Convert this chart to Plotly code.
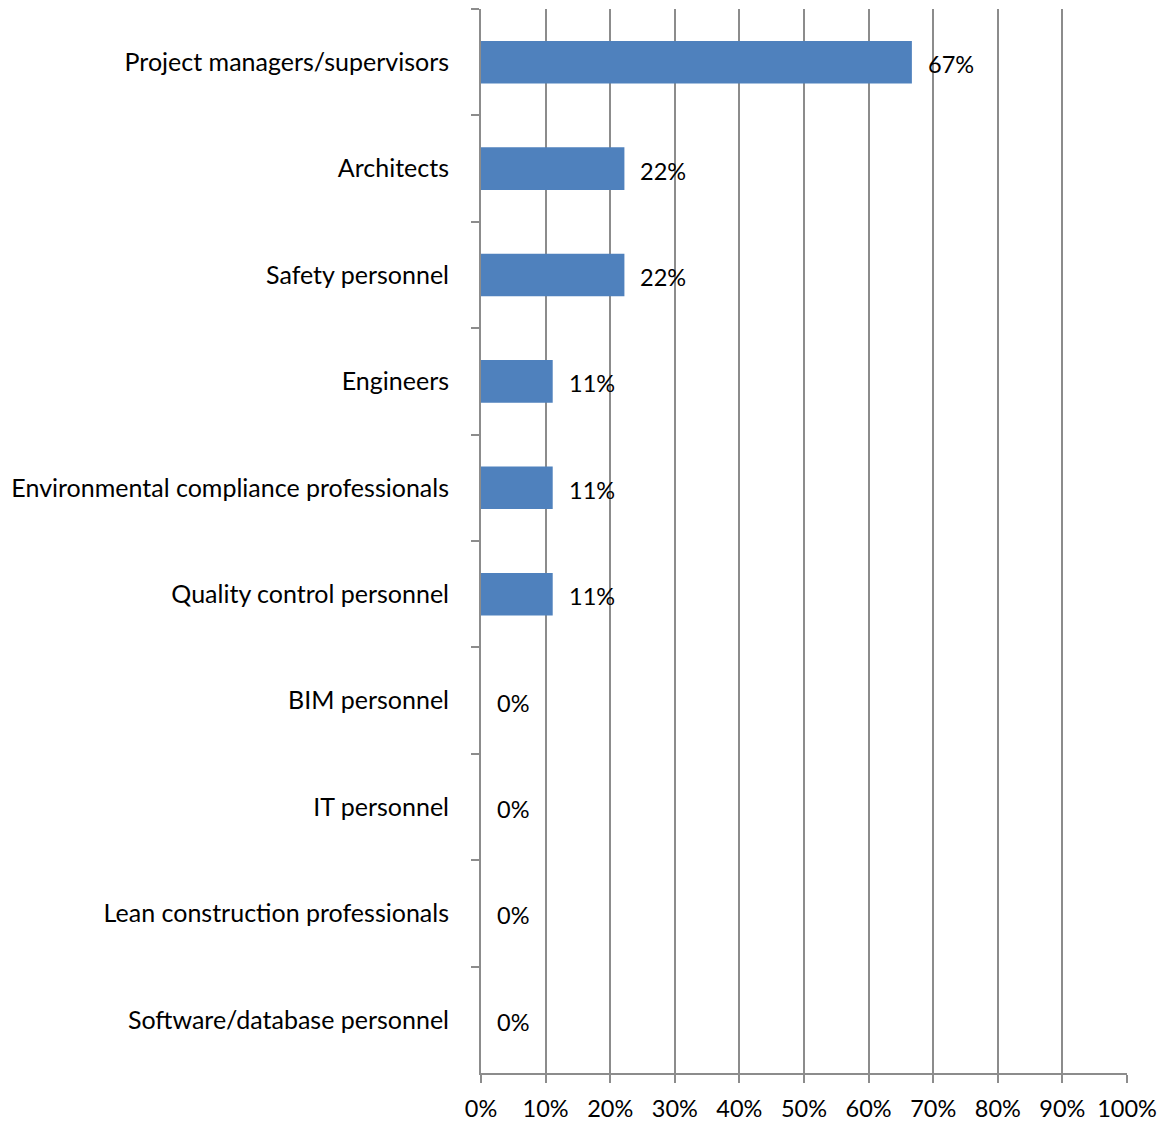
import plotly.graph_objects as go

categories = [
    "Project managers/supervisors",
    "Architects",
    "Safety personnel",
    "Engineers",
    "Environmental compliance professionals",
    "Quality control personnel",
    "BIM personnel",
    "IT personnel",
    "Lean construction professionals",
    "Software/database personnel",
]
values = [0.667, 0.222, 0.222, 0.111, 0.111, 0.111, 0.0, 0.0, 0.0, 0.0]
labels = ["67%", "22%", "22%", "11%", "11%", "11%", "0%", "0%", "0%", "0%"]
x_ticks = [i / 10 for i in range(11)]
x_tick_labels = [f"{i*10}%" for i in range(11)]

FONT = "Lato, Carlito, Calibri, sans-serif"
GRID = "#8c8c8c"

fig = go.Figure()
fig.add_trace(go.Bar(
    x=values, y=categories, orientation="h",
    marker=dict(color="#4f81bd", line=dict(width=0)),
    hoverinfo="skip",
))

for v, c, t in zip(values, categories, labels):
    fig.add_annotation(x=v, y=c, text=t, showarrow=False, xanchor="left",
                       xshift=14, yshift=-2, font=dict(family=FONT, size=23.5, color="#000"))

fig.update_layout(
    width=1174, height=1122,
    margin=dict(l=473, r=55, t=1, b=57),
    plot_bgcolor="white", paper_bgcolor="white",
    showlegend=False,
    bargap=0.6,
    font=dict(family=FONT, size=22, color="#000"),
)
fig.update_xaxes(
    range=[0, 1], tickvals=x_ticks, ticktext=x_tick_labels,
    showgrid=True, gridcolor=GRID, gridwidth=2,
    showline=True, linecolor=GRID, linewidth=2,
    ticks="outside", ticklen=8, tickcolor=GRID, tickwidth=2,
    ticklabelstandoff=6,
    zeroline=False, tickfont=dict(family=FONT, size=23.5, color="#000"),
)
fig.update_yaxes(
    autorange="reversed", type="category",
    showgrid=False, showline=True, linecolor=GRID, linewidth=2,
    ticks="outside", ticklen=8, tickcolor=GRID, tickwidth=2,
    tickson="boundaries", ticklabelstandoff=25,
    tickfont=dict(family=FONT, size=25, color="#000"),
)

fig.write_html("out.html")
